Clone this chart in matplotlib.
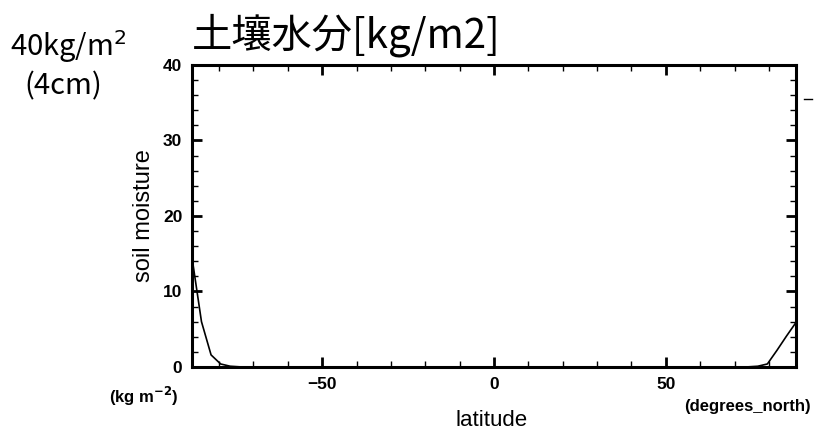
import matplotlib
matplotlib.use("Agg")
import matplotlib.pyplot as plt
from matplotlib.ticker import MultipleLocator, FixedLocator
from matplotlib.lines import Line2D

# Gaussian-grid latitudes (T42) near the poles and zonal-mean soil moisture
lat_south = [-87.86, -85.10, -82.31, -79.53, -76.74, -73.95, -71.16]
sm_south = [14.5, 6.0, 1.6, 0.4, 0.1, 0.02, 0.0]
lat_mid = [-60.0, -30.0, 0.0, 30.0, 60.0]
sm_mid = [0.0, 0.0, 0.0, 0.0, 0.0]
lat_north = [71.16, 73.95, 76.74, 79.53, 82.31, 85.10, 87.86]
sm_north = [0.0, 0.02, 0.1, 0.4, 2.2, 4.1, 5.9]

lat = lat_south + lat_mid + lat_north
sm = sm_south + sm_mid + sm_north

x_major = [-50, 0, 50]
y_major = [0, 10, 20, 30, 40]

cjk = ["Noto Sans CJK JP", "DejaVu Sans"]
label_font = "Liberation Sans"

W, H = 817, 442


def fx(px):
    return px / W


def fy(py):
    return 1 - py / H


fig = plt.figure(figsize=(8.17, 4.42), dpi=100)
ax = fig.add_axes([0.235, 0.1697, 0.7393, 0.6833])

ax.plot(lat, sm, color="black", lw=1.2)
ax.set_xlim(-87.86, 87.86)
ax.set_ylim(0, 40)

ax.xaxis.set_major_locator(FixedLocator(x_major))
ax.xaxis.set_minor_locator(MultipleLocator(10))
ax.yaxis.set_major_locator(FixedLocator(y_major))
ax.yaxis.set_minor_locator(MultipleLocator(2))
ax.set_xticklabels(["\u221250", "0", "50"])
ax.set_yticklabels([str(v) for v in y_major])

for s in ax.spines.values():
    s.set_linewidth(2.2)
ax.tick_params(which="both", direction="in", top=True, right=True, color="black")
ax.tick_params(which="major", length=7, width=2.0, pad=7)
ax.tick_params(which="minor", length=4, width=1.0)
for t in ax.get_xticklabels() + ax.get_yticklabels():
    t.set_fontfamily(label_font)
    t.set_fontweight("bold")
    t.set_fontsize(12.5)

# axis names and units
fig.text(fx(144), fy(216), "soil moisture", fontfamily=label_font, fontsize=17,
         rotation=90, ha="center", va="center")
fig.text(fx(492), fy(421), "latitude", fontfamily=label_font, fontsize=16,
         ha="center", va="center")
fig.text(fx(109), fy(396), "(kg m$^{\\mathbf{-2}}$)", fontfamily=label_font,
         fontweight="bold", fontsize=12, ha="left", va="center")
fig.text(fx(811), fy(406), "(degrees_north)", fontfamily=label_font,
         fontweight="bold", fontsize=12, ha="right", va="center")

# headline and annotation
fig.text(fx(346), fy(35), "土壤水分[kg/m2]", family=cjk, fontsize=29,
         ha="center", va="center")
fig.text(fx(68), fy(47), "40kg/m$^2$", family=cjk, fontsize=21,
         ha="center", va="center")
fig.text(fx(63), fy(86), "(4cm)", family=cjk, fontsize=21,
         ha="center", va="center")

fig.add_artist(Line2D([fx(804), fx(812)], [fy(99), fy(99)],
                      color="black", lw=1.0, transform=fig.transFigure))

fig.savefig("out.png", dpi=100)
